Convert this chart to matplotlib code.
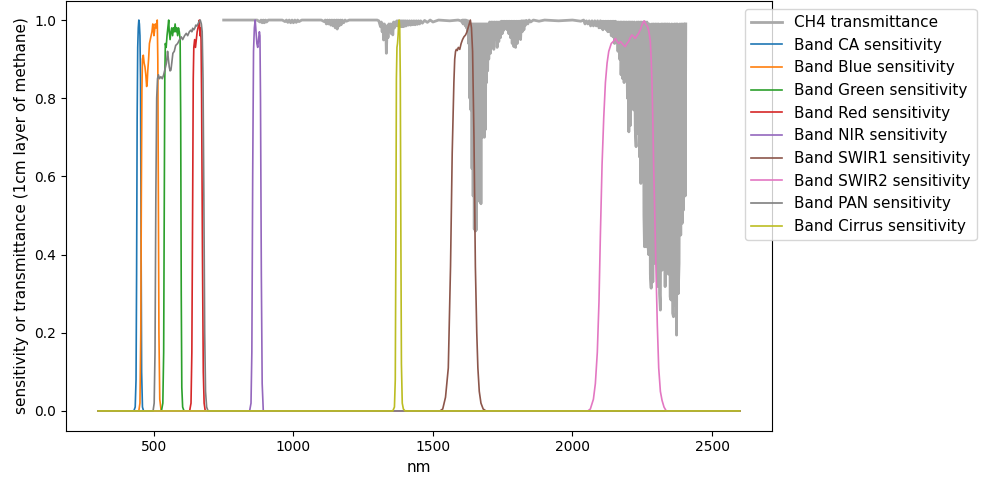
import matplotlib
matplotlib.use('Agg')
import matplotlib.pyplot as plt

# CH4 transmittance in pieces (nm, transmittance)
ch4_nm_a = [750, 800, 870, 880, 884, 888, 892, 896, 900, 904,
            910, 960, 970, 975, 980, 985, 990, 995, 1000, 1005,
            1010, 1015, 1020, 1030, 1100, 1110, 1114, 1118, 1122, 1126,
            1130, 1134, 1138, 1142, 1146, 1150, 1154, 1157, 1160, 1164,
            1168, 1171, 1175, 1180, 1185, 1190, 1200, 1250]
ch4_t_a = [1.0, 1.0, 1.0, 0.995, 1.0, 0.993, 1.0, 0.993, 1.0, 0.995,
           1.0, 1.0, 0.996, 1.0, 0.994, 1.0, 0.993, 1.0, 0.993, 1.0,
           0.994, 1.0, 0.996, 1.0, 1.0, 0.996, 1.0, 0.99, 1.0, 0.99,
           1.0, 0.987, 1.0, 0.985, 1.0, 0.98, 1.0, 0.977, 1.0, 0.985,
           1.0, 0.988, 1.0, 0.993, 1.0, 0.997, 1.0, 1.0]

ch4_nm_b = [1300, 1306, 1309, 1312, 1315, 1318, 1321, 1323, 1326, 1328,
            1331, 1333, 1336, 1339, 1342, 1345, 1348, 1351, 1354, 1356,
            1359, 1362, 1365, 1368, 1371, 1374, 1377, 1380, 1383, 1386,
            1389, 1392, 1395, 1398, 1401, 1404, 1408, 1412, 1416, 1420,
            1424, 1428, 1432, 1436, 1440, 1444, 1448, 1452, 1456, 1462,
            1470, 1480, 1490, 1500, 1520, 1560, 1590]
ch4_t_b = [1.0, 0.998, 0.99, 0.983, 0.995, 0.97, 0.99, 0.949, 0.99, 0.96,
           0.985, 0.915, 0.985, 0.955, 0.99, 0.97, 0.99, 0.965, 0.99, 0.962,
           0.995, 0.98, 0.995, 0.985, 0.998, 0.985, 0.998, 0.985, 0.998, 0.983,
           0.998, 0.983, 0.998, 0.984, 0.998, 0.985, 0.998, 0.987, 0.998, 0.987,
           0.998, 0.988, 0.998, 0.988, 0.998, 0.989, 0.998, 0.99, 0.998, 0.992,
           0.999, 0.994, 1.0, 0.995, 1.0, 0.998, 1.0]

ch4_nm_c = [1600, 1604, 1606, 1608, 1610, 1612, 1614, 1616, 1618, 1620,
            1622, 1624, 1626, 1628, 1630, 1632, 1634, 1636, 1638, 1640,
            1642, 1644, 1646, 1648, 1650, 1652, 1654, 1656, 1658, 1660,
            1662, 1664, 1666, 1668, 1670, 1672, 1674, 1676, 1678, 1680,
            1682, 1684, 1686, 1688, 1690, 1692, 1694, 1696, 1698]
ch4_t_c = [0.998, 0.995, 1.0, 0.99, 1.0, 0.99, 1.0, 0.985, 1.0, 0.98,
           0.998, 0.97, 0.998, 0.94, 0.995, 0.80, 0.99, 0.77, 0.99, 0.62,
           0.99, 0.55, 0.99, 0.465, 0.99, 0.46, 0.99, 0.463, 0.99, 0.60,
           0.99, 0.70, 0.99, 0.535, 0.99, 0.53, 0.99, 0.70, 0.99, 0.71,
           0.99, 0.70, 0.99, 0.72, 0.99, 0.84, 0.99, 0.87, 0.99]

ch4_nm_d = [1700, 1703, 1706, 1709, 1712, 1715, 1718, 1721, 1724, 1727,
            1730, 1733, 1736, 1739, 1742, 1745, 1748, 1751, 1754, 1757,
            1760, 1763, 1766, 1769, 1772, 1775, 1778, 1781, 1784, 1787,
            1790, 1793, 1796, 1799, 1802, 1805, 1808, 1811, 1814, 1817,
            1820, 1823, 1826, 1829, 1832, 1835, 1840, 1845, 1850, 1860,
            1880, 1900, 1950, 2000, 2030, 2040]
ch4_t_d = [0.90, 0.995, 0.915, 0.995, 0.94, 0.995, 0.925, 0.995, 0.95, 0.995,
           0.93, 0.995, 0.945, 0.995, 0.955, 0.997, 0.965, 0.997, 0.974, 0.997,
           0.98, 0.997, 0.975, 0.997, 0.965, 0.997, 0.955, 0.997, 0.94, 0.997,
           0.932, 0.997, 0.93, 0.997, 0.94, 0.997, 0.953, 0.997, 0.95, 0.998,
           0.97, 0.998, 0.975, 0.998, 0.987, 0.999, 0.99, 1.0, 0.995, 1.0,
           0.997, 1.0, 0.998, 1.0, 0.997, 1.0]

ch4_nm_e = [2045, 2050, 2055, 2060, 2065, 2070, 2075, 2080, 2085, 2090,
            2095, 2100, 2103, 2106, 2109, 2112, 2115, 2118, 2121, 2124,
            2127, 2130, 2133, 2136, 2139, 2142, 2145, 2148, 2151, 2154,
            2157, 2160, 2163, 2166, 2169, 2172, 2174, 2177, 2180, 2183,
            2185, 2188, 2191, 2194, 2197, 2200, 2202, 2205, 2207, 2210,
            2213, 2216, 2219, 2222, 2225, 2228, 2231, 2234, 2237, 2240,
            2243, 2245, 2248, 2251, 2254, 2256, 2258, 2261, 2264, 2267,
            2270, 2273, 2276, 2279, 2282, 2285, 2288, 2291, 2294, 2297,
            2300, 2303, 2306, 2309, 2312, 2315, 2318, 2321, 2324, 2327,
            2330, 2332, 2335, 2338, 2341, 2344, 2347, 2350, 2353, 2356,
            2359, 2362, 2365, 2368, 2371, 2373, 2376, 2379, 2382, 2385,
            2388, 2391, 2393, 2396, 2398, 2401, 2404, 2406]
ch4_t_e = [0.99, 0.998, 0.99, 0.998, 0.985, 0.998, 0.985, 0.998, 0.985, 0.998,
           0.98, 0.998, 0.98, 0.997, 0.975, 0.997, 0.98, 0.997, 0.975, 0.997,
           0.97, 0.997, 0.97, 0.997, 0.96, 0.997, 0.957, 0.997, 0.94, 0.997,
           0.943, 0.995, 0.92, 0.995, 0.90, 0.995, 0.86, 0.995, 0.85, 0.995,
           0.84, 0.995, 0.885, 0.995, 0.80, 0.995, 0.714, 0.995, 0.73, 0.995,
           0.787, 0.995, 0.77, 0.995, 0.72, 0.676, 0.995, 0.71, 0.995, 0.65,
           0.995, 0.582, 0.995, 0.59, 0.995, 0.50, 0.42, 0.995, 0.42, 0.995,
           0.43, 0.40, 0.99, 0.35, 0.314, 0.99, 0.33, 0.99, 0.378, 0.99,
           0.39, 0.99, 0.318, 0.99, 0.30, 0.258, 0.99, 0.36, 0.99, 0.386,
           0.99, 0.318, 0.99, 0.378, 0.99, 0.35, 0.99, 0.292, 0.284, 0.99,
           0.25, 0.241, 0.99, 0.27, 0.99, 0.194, 0.99, 0.30, 0.378, 0.99,
           0.45, 0.99, 0.48, 0.99, 0.514, 0.99, 0.55, 0.99]

ch4_nm = ch4_nm_a + ch4_nm_b + ch4_nm_c + ch4_nm_d + ch4_nm_e
ch4_t = ch4_t_a + ch4_t_b + ch4_t_c + ch4_t_d + ch4_t_e

# Band relative spectral responses
ca_nm = [300, 428, 433, 436, 438, 440, 442, 444, 446, 448, 450, 452, 454, 456, 459, 463, 2600]
ca_val = [0, 0, 0.01, 0.08, 0.35, 0.75, 0.93, 0.98, 1.0, 0.99, 0.96, 0.85, 0.45, 0.1, 0.01, 0, 0]

blue_nm = [300, 446, 450, 453, 455, 457, 459, 462, 465, 468, 471, 474, 476, 478, 481, 484, 487,
           490, 493, 496, 498, 500, 502, 505, 508, 510, 512, 514, 516, 518, 521, 526, 2600]
blue_val = [0, 0, 0.02, 0.2, 0.55, 0.82, 0.9, 0.91, 0.89, 0.88, 0.86, 0.83, 0.84, 0.87, 0.9, 0.94, 0.95,
            0.96, 0.97, 0.99, 0.98, 0.96, 0.97, 0.99, 0.98, 0.99, 1.0, 0.9, 0.55, 0.2, 0.03, 0, 0]

green_nm = [300, 527, 532, 535, 537, 539, 541, 544, 547, 550, 553, 555, 558, 561, 564, 567, 570,
            573, 576, 579, 582, 585, 588, 591, 594, 596, 598, 600, 603, 608, 2600]
green_val = [0, 0, 0.02, 0.15, 0.5, 0.85, 0.94, 0.93, 0.96, 0.98, 1.0, 0.97, 0.95, 0.97, 0.98, 0.96, 0.98,
             0.97, 0.99, 0.97, 0.98, 0.96, 0.98, 0.97, 0.95, 0.75, 0.3, 0.06, 0.01, 0, 0]

red_nm = [300, 628, 633, 636, 639, 641, 643, 646, 649, 652, 655, 658, 661, 663, 665, 667, 669,
          671, 674, 677, 680, 684, 2600]
red_val = [0, 0, 0.02, 0.15, 0.55, 0.85, 0.93, 0.95, 0.93, 0.95, 0.97, 0.98, 0.99, 1.0, 0.96, 0.98, 0.95,
           0.8, 0.4, 0.1, 0.02, 0, 0]

nir_nm = [300, 843, 848, 851, 854, 857, 860, 863, 866, 869, 872, 875, 878, 880, 882, 885, 888, 892, 2600]
nir_val = [0, 0, 0.02, 0.15, 0.6, 0.92, 0.98, 1.0, 0.97, 0.94, 0.93, 0.95, 0.97, 0.96, 0.8, 0.35, 0.07, 0, 0]

swir1_nm = [300, 1525, 1535, 1545, 1555, 1563, 1569, 1575, 1578, 1581, 1584, 1587, 1591, 1596, 1601,
            1606, 1611, 1617, 1622, 1626, 1630, 1634, 1638, 1642, 1647, 1652, 1657, 1661, 1666, 1672,
            1680, 1690, 2600]
swir1_val = [0, 0, 0.005, 0.035, 0.11, 0.37, 0.66, 0.84, 0.9, 0.92, 0.925, 0.922, 0.93, 0.925, 0.94,
             0.95, 0.957, 0.962, 0.97, 0.98, 0.99, 1.0, 0.98, 0.92, 0.7, 0.37, 0.2, 0.11, 0.05, 0.02,
             0.005, 0, 0]

swir2_nm = [300, 2055, 2064, 2075, 2082, 2089, 2095, 2100, 2106, 2112, 2118, 2124, 2130, 2139, 2146,
            2154, 2160, 2166, 2172, 2178, 2184, 2189, 2195, 2201, 2207, 2213, 2219, 2225, 2231, 2237,
            2243, 2249, 2254, 2257, 2262, 2269, 2274, 2279, 2282, 2285, 2288, 2291, 2295, 2299, 2304,
            2309, 2315, 2321, 2328, 2336, 2345, 2600]
swir2_val = [0, 0, 0.005, 0.03, 0.07, 0.15, 0.28, 0.45, 0.63, 0.75, 0.84, 0.89, 0.92, 0.94, 0.945,
             0.953, 0.945, 0.94, 0.945, 0.94, 0.935, 0.932, 0.94, 0.945, 0.955, 0.962, 0.958, 0.953, 0.96, 0.966,
             0.975, 0.987, 0.995, 0.998, 0.99, 0.983, 0.97, 0.945, 0.9, 0.838, 0.74, 0.625, 0.5, 0.37, 0.22,
             0.11, 0.05, 0.027, 0.01, 0, 0, 0]

pan_nm = [300, 497, 501, 504, 507, 510, 513, 516, 520, 525, 530, 535, 540, 545, 549, 552, 555, 558,
          561, 564, 568, 573, 578, 585, 592, 598, 603, 610, 616, 621, 627, 632, 636, 639, 643, 647,
          650, 654, 658, 662, 666, 670, 673, 676, 679, 682, 685, 689, 694, 2600]
pan_val = [0, 0, 0.02, 0.15, 0.55, 0.8, 0.85, 0.86, 0.85, 0.855, 0.85, 0.86, 0.875, 0.89, 0.92, 0.9,
           0.88, 0.87, 0.872, 0.89, 0.915, 0.92, 0.935, 0.94, 0.95, 0.957, 0.95, 0.96, 0.966, 0.96,
           0.97, 0.974, 0.97, 0.979, 0.975, 0.98, 0.987, 0.985, 0.99, 0.996, 1.0, 0.99, 0.97, 0.85,
           0.55, 0.2, 0.05, 0.01, 0, 0]

cirrus_nm = [300, 1356, 1362, 1365, 1367, 1369, 1371, 1373, 1375, 1377, 1379, 1381, 1383, 1385,
             1387, 1390, 1394, 1400, 2600]
cirrus_val = [0, 0, 0.01, 0.08, 0.4, 0.85, 0.93, 0.94, 0.96, 0.99, 1.0, 0.98, 0.85, 0.45, 0.12,
              0.02, 0.005, 0, 0]

bands = [('CA', ca_nm, ca_val), ('Blue', blue_nm, blue_val), ('Green', green_nm, green_val),
         ('Red', red_nm, red_val), ('NIR', nir_nm, nir_val), ('SWIR1', swir1_nm, swir1_val),
         ('SWIR2', swir2_nm, swir2_val), ('PAN', pan_nm, pan_val), ('Cirrus', cirrus_nm, cirrus_val)]

fig = plt.figure(figsize=(9.82, 4.78), dpi=100)
ax = fig.add_axes([66 / 982, 47.5 / 478, 706 / 982, 430 / 478])

ax.plot(ch4_nm, ch4_t, color='darkgray', lw=2, label='CH4 transmittance')
for name, nm, val in bands:
    ax.plot(nm, val, lw=1.2, label='Band %s sensitivity' % name)

ax.set_xlabel('nm', fontsize=11)
ax.set_ylabel('sensitivity or transmittance (1cm layer of methane)', fontsize=11)
ax.legend(loc='upper left', bbox_to_anchor=(745 / 982, 1 - 9 / 478),
          bbox_transform=fig.transFigure, borderaxespad=0, fontsize=11)

fig.savefig('out.png', dpi=100)
